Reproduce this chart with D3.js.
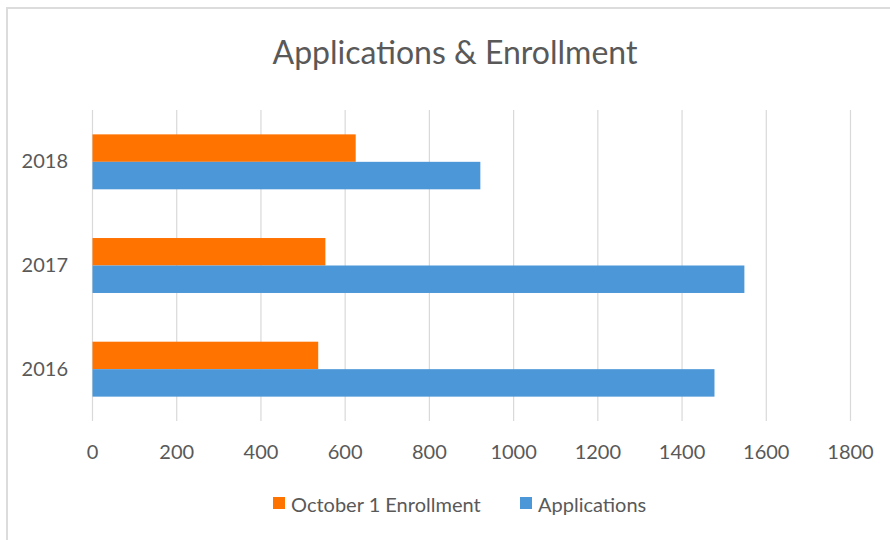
<!DOCTYPE html>
<html>
<head>
<meta charset="utf-8">
<script src="https://d3js.org/d3.v7.min.js"></script>
<style>
  body { margin: 0; background: #fff; }
  text { font-family: Lato, "Open Sans", sans-serif; fill: #595959; }
</style>
</head>
<body>
<div id="chart"></div>
<script>
// chart data
var years = ["2018", "2017", "2016"];
var seriesNames = ["October 1 Enrollment", "Applications"];
var enrollment = [625, 553, 536];
var applications = [921, 1548, 1477];
var xTicks = [0, 200, 400, 600, 800, 1000, 1200, 1400, 1600, 1800];
var colors = ["#FF7300", "#4B97D8"];

var svgWidth = 890;
var svgHeight = 540;

var margin = { top: 110, right: 40, bottom: 119, left: 92 };
var width = 850 - margin.left;
var height = svgHeight - margin.top - margin.bottom;

var svg = d3.select("#chart")
    .append("svg")
    .attr("width", svgWidth)
    .attr("height", svgHeight);

// chart frame: only the top and left edges show in the crop
svg.append("line")
    .attr("x1", 7).attr("x2", svgWidth)
    .attr("y1", 8).attr("y2", 8)
    .attr("stroke", "#dcdcdc")
    .attr("stroke-width", 2);
svg.append("line")
    .attr("x1", 7).attr("x2", 7)
    .attr("y1", 7).attr("y2", svgHeight)
    .attr("stroke", "#dcdcdc")
    .attr("stroke-width", 2);

svg.append("text")
    .attr("x", 455)
    .attr("y", 53)
    .attr("dy", "0.35em")
    .attr("text-anchor", "middle")
    .style("font-size", "32px")
    .text("Applications & Enrollment");

var chartGroup = svg.append("g")
    .attr("transform", `translate(${margin.left}, ${margin.top})`);

var xScale = d3.scaleLinear()
    .domain([0, 1800])
    .range([0, width]);

var yScale = d3.scaleBand()
    .domain(years)
    .range([0, height])
    .paddingInner(0.47)
    .paddingOuter(0.235);

var subScale = d3.scaleBand()
    .domain(seriesNames)
    .range([0, yScale.bandwidth()]);

// gridlines
chartGroup.append("g")
    .selectAll("line")
    .data(xTicks)
    .enter()
    .append("line")
    .attr("x1", d => xScale(d) + 0.5)
    .attr("x2", d => xScale(d) + 0.5)
    .attr("y1", 0)
    .attr("y2", height)
    .attr("stroke", "#d9d9d9")
    .attr("stroke-width", 1.2);

// bottom axis labels only
var bottomAxis = d3.axisBottom(xScale)
    .tickValues(xTicks)
    .tickFormat(d3.format("d"))
    .tickSize(0)
    .tickPadding(24);

var xAxisG = chartGroup.append("g")
    .attr("transform", `translate(0, ${height})`)
    .call(bottomAxis);
xAxisG.select(".domain").remove();
xAxisG.selectAll("text")
    .style("font-size", "20px")
    .style("font-family", "Lato, sans-serif")
    .attr("fill", "#595959");

// left axis labels
var leftAxis = d3.axisLeft(yScale)
    .tickSize(0)
    .tickPadding(24);

var yAxisG = chartGroup.append("g").call(leftAxis);
yAxisG.select(".domain").remove();
yAxisG.selectAll("text")
    .style("font-size", "20px")
    .style("font-family", "Lato, sans-serif")
    .attr("fill", "#595959");

// bars
var rows = years.map(function(y, i) {
    return { year: y, values: [enrollment[i], applications[i]] };
});

var groups = chartGroup.selectAll("g.year")
    .data(rows)
    .enter()
    .append("g")
    .attr("class", "year")
    .attr("transform", d => `translate(0, ${yScale(d.year)})`);

groups.selectAll("rect")
    .data(d => d.values.map((v, j) => ({ name: seriesNames[j], value: v, idx: j })))
    .enter()
    .append("rect")
    .attr("x", xScale(0) + 0.5)
    .attr("y", d => subScale(d.name))
    .attr("width", d => xScale(d.value) - xScale(0))
    .attr("height", subScale.bandwidth())
    .attr("fill", d => colors[d.idx]);

// legend
var legendItems = [
    { name: seriesNames[0], x: 273, color: colors[0] },
    { name: seriesNames[1], x: 520, color: colors[1] }
];

var legend = svg.selectAll("g.legend")
    .data(legendItems)
    .enter()
    .append("g")
    .attr("class", "legend")
    .attr("transform", d => `translate(${d.x}, 497)`);

legend.append("rect")
    .attr("width", 12)
    .attr("height", 12)
    .attr("fill", d => d.color);

legend.append("text")
    .attr("x", 18)
    .attr("y", 8)
    .attr("dy", "0.35em")
    .style("font-size", "20px")
    .text(d => d.name);
</script>
</body>
</html>
